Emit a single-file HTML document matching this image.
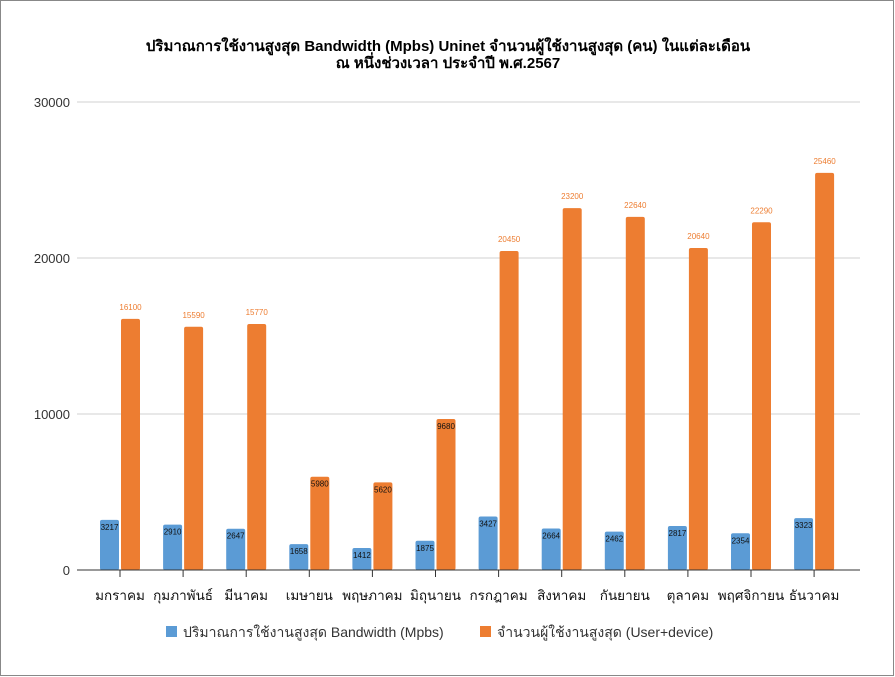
<!DOCTYPE html>
<html><head><meta charset="utf-8"><style>
body{margin:0;background:#fff}
svg{display:block;font-family:"Liberation Sans","DejaVu Sans","Noto Sans CJK SC",sans-serif}
</style></head><body>
<svg id="c" width="895" height="677">
<rect x="0.5" y="0.5" width="893" height="675" fill="#fff" stroke="#888"/>
<text x="448" y="51" text-anchor="middle" font-size="15" font-weight="bold" fill="#000">ปริมาณการใช้งานสูงสุด Bandwidth (Mpbs) Uninet  จำนวนผู้ใช้งานสูงสุด (คน) ในแต่ละเดือน</text>
<text x="448" y="68" text-anchor="middle" font-size="15" font-weight="bold" fill="#000">ณ หนึ่งช่วงเวลา  ประจำปี พ.ศ.2567</text>
<g id="grid"></g><g id="bars"></g>
<g>
<rect x="166" y="626" width="11" height="11" fill="#5b9bd5"/>
<text x="183" y="637" font-size="14" fill="#333">ปริมาณการใช้งานสูงสุด Bandwidth (Mpbs)</text>
<rect x="480" y="626" width="11" height="11" fill="#ed7d31"/>
<text x="497" y="637" font-size="14" fill="#333">จำนวนผู้ใช้งานสูงสุด (User+device)</text>
</g>
</svg>
<script>
const categories=["มกราคม","กุมภาพันธ์","มีนาคม","เมษายน","พฤษภาคม","มิถุนายน","กรกฎาคม","สิงหาคม","กันยายน","ตุลาคม","พฤศจิกายน","ธันวาคม"];
const bandwidth=[3217,2910,2647,1658,1412,1875,3427,2664,2462,2817,2354,3323];
const users=[16100,15590,15770,5980,5620,9680,20450,23200,22640,20640,22290,25460];
const yTicks=[0,10000,20000,30000];
const NS="http://www.w3.org/2000/svg";
const y=v=>570-v*(468/30000);
const x=i=>120+i*63.1;
function mk(t,a,p){const e=document.createElementNS(NS,t);for(const k in a)e.setAttribute(k,a[k]);p.appendChild(e);return e;}
const g=document.getElementById('grid'),b=document.getElementById('bars');
yTicks.forEach(v=>{
 if(v>0){const l=mk('line',{x1:77,x2:860,y1:y(v),y2:y(v),stroke:'#d0d0d0'},g);
 
 }
 const t=mk('text',{x:70,y:y(v)+5,'text-anchor':'end','font-size':13,fill:'#333'},g);t.textContent=v;
 
 
});
categories.forEach((c,i)=>{
 const cx=x(i);
 const bb=mk('rect',{x:cx-20,y:y(bandwidth[i]),width:19,height:570-y(bandwidth[i]),rx:2,fill:'#5b9bd5'},b);
 
 
 const ub=mk('rect',{x:cx+1,y:y(users[i]),width:19,height:570-y(users[i]),rx:2,fill:'#ed7d31'},b);
 
 
 const bl=mk('text',{x:cx-10.5,y:y(bandwidth[i])+10,'text-anchor':'middle','font-size':8,fill:'#111'},b);bl.textContent=bandwidth[i];
 
 
 const inside=users[i]<10000;
 const ul=mk('text',{x:cx+10.5,y:inside?y(users[i])+10:y(users[i])-9,'text-anchor':'middle','font-size':8,fill:inside?'#111':'#ed7d31'},b);ul.textContent=users[i];
 
 
 const tk=mk('line',{x1:cx,x2:cx,y1:570,y2:577,stroke:'#333'},b);
 
 
 const cl=mk('text',{x:cx,y:600,'text-anchor':'middle','font-size':13.5,fill:'#111'},b);cl.textContent=c;
 
 
});
const ax=mk('line',{x1:77,x2:860,y1:570,y2:570,stroke:'#333'},b);


</script>
</body></html>
